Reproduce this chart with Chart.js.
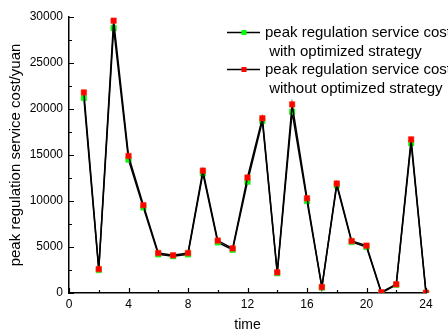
<!DOCTYPE html>
<html>
<head>
<meta charset="utf-8">
<script src="https://cdn.jsdelivr.net/npm/chart.js@4/dist/chart.umd.min.js"></script>
<style>
  html, body { margin: 0; padding: 0; background: #fff; }
  #wrap { width: 448px; height: 331px; }
</style>
</head>
<body>
<div id="wrap"><canvas id="myChart" width="448" height="331"></canvas></div>
<script>
// hours of the day
var hours = [1, 2, 3, 4, 5, 6, 7, 8, 9, 10, 11, 12, 13, 14, 15, 16, 17, 18, 19, 20, 21, 22, 23, 24]

// cost with optimized strategy (green)
var costWith = [21200, 2500, 28800, 14500, 9300, 4200, 4000, 4200, 13000, 5500, 4700, 12100,
                18700, 2150, 19700, 10000, 600, 11700, 5550, 5000, 0, 900, 16300, 0]

// cost without optimized strategy (red)
var costWithout = [21800, 2600, 29600, 14900, 9550, 4350, 4100, 4350, 13300, 5700, 4850, 12550,
                   19000, 2250, 20500, 10300, 650, 11900, 5650, 5150, 80, 950, 16700, 30]

var legendLabels = [
    ["peak regulation service cost", " with optimized strategy"],
    ["peak regulation service cost", " without optimized strategy"]
]

var xTicks = [0, 4, 8, 12, 16, 20, 24]
var yTicks = [0, 5000, 10000, 15000, 20000, 25000, 30000]

function points(ys) {
    return hours.map(function(h, i) { return {x: h, y: ys[i]} })
}

// ticks pointing into the plot, major + minor
var innerTicks = {
    id: 'innerTicks',
    afterDraw: function(chart) {
        var ctx = chart.ctx, area = chart.chartArea
        var xs = chart.scales.x, ys = chart.scales.y
        ctx.save()
        ctx.strokeStyle = '#000'
        ctx.lineWidth = 1.2
        ctx.beginPath()
        for (var v = 0; v <= 30000; v += 2500) {
            var len = (v % 5000 == 0) ? 5 : 3
            var py = Math.round(ys.getPixelForValue(v)) + 0.5
            ctx.moveTo(area.left, py)
            ctx.lineTo(area.left + len, py)
        }
        for (var t = 0; t <= 24; t += 2) {
            var len2 = (t % 4 == 0) ? 5 : 3
            var px = Math.round(xs.getPixelForValue(t)) + 0.5
            ctx.moveTo(px, area.bottom)
            ctx.lineTo(px, area.bottom - len2)
        }
        ctx.stroke()
        ctx.restore()
    }
}

// two-line legend entries in the top right corner
var multiLegend = {
    id: 'multiLegend',
    afterDraw: function(chart) {
        var ctx = chart.ctx
        var colors = ['#00ff00', '#ff0000']
        var rowY = [32.5, 69.5]
        ctx.save()
        ctx.font = '15px "Liberation Sans", Arial, sans-serif'
        ctx.textBaseline = 'middle'
        ctx.fillStyle = '#000'
        for (var i = 0; i < 2; i++) {
            var y = rowY[i]
            ctx.strokeStyle = '#000'
            ctx.lineWidth = 1.3
            ctx.beginPath()
            ctx.moveTo(227, y)
            ctx.lineTo(260, y)
            ctx.stroke()
            ctx.fillStyle = colors[i]
            ctx.fillRect(241.5, y - 2.5, 5, 5)
            ctx.fillStyle = '#000'
            ctx.textAlign = 'left'
            ctx.fillText(legendLabels[i][0], 265, y)
            ctx.fillText(legendLabels[i][1], 265, y + 19)
        }
        ctx.restore()
    }
}

document.addEventListener('DOMContentLoaded', function() {
    var ctx = document.getElementById("myChart").getContext('2d')
    new Chart(ctx, {
        type: 'line',
        data: {
            datasets: [{
                label: 'without optimized strategy',
                data: points(costWithout),
                borderColor: '#000',
                borderWidth: 1.5,
                pointStyle: 'rect',
                pointRadius: 3.9,
                pointBackgroundColor: '#ff0000',
                pointBorderColor: '#ff2a00',
                pointBorderWidth: 0.5,
                clip: {left: 10, top: 10, right: 10, bottom: 0},
                tension: 0
            }, {
                label: 'with optimized strategy',
                data: points(costWith),
                borderColor: '#000',
                borderWidth: 1.5,
                pointStyle: 'rect',
                pointRadius: 3.9,
                pointBackgroundColor: '#00ff00',
                pointBorderColor: '#22dd22',
                pointBorderWidth: 0.5,
                clip: {left: 10, top: 10, right: 10, bottom: 0},
                tension: 0
            }]
        },
        options: {
            responsive: false,
            animation: false,
            layout: { padding: {left: 0, top: 17, right: 22, bottom: 0} },
            plugins: {
                legend: { display: false },
                tooltip: { enabled: false }
            },
            scales: {
                x: {
                    type: 'linear',
                    min: 0,
                    max: 24,
                    afterBuildTicks: function(s) { s.ticks = xTicks.map(function(v) { return {value: v} }) },
                    afterFit: function(s) { s.height = 38 },
                    grid: { drawOnChartArea: false, drawTicks: false },
                    border: { color: '#000', width: 1.5 },
                    ticks: {
                        color: '#000',
                        padding: 4,
                        maxRotation: 0,
                        callback: function(v) { return String(v) },
                        font: { family: '"Liberation Sans", Arial, sans-serif', size: 12 }
                    },
                    title: {
                        display: true,
                        text: 'time',
                        color: '#000',
                        padding: {top: 0, bottom: -1},
                        font: { family: '"Liberation Sans", Arial, sans-serif', size: 14, lineHeight: 1 }
                    }
                },
                y: {
                    min: 0,
                    max: 30000,
                    afterBuildTicks: function(s) { s.ticks = yTicks.map(function(v) { return {value: v} }) },
                    afterFit: function(s) { s.width = 69 },
                    grid: { drawOnChartArea: false, drawTicks: false },
                    border: { color: '#000', width: 1.5 },
                    ticks: {
                        color: '#000',
                        padding: 6,
                        callback: function(v) { return String(v) },
                        font: { family: '"Liberation Sans", Arial, sans-serif', size: 12 }
                    },
                    title: {
                        display: true,
                        text: 'peak regulation service cost/yuan',
                        color: '#000',
                        padding: {top: 7, bottom: 0},
                        font: { family: '"Liberation Sans", Arial, sans-serif', size: 15 }
                    }
                }
            }
        },
        plugins: [innerTicks, multiLegend]
    })
})
</script>
</body>
</html>
